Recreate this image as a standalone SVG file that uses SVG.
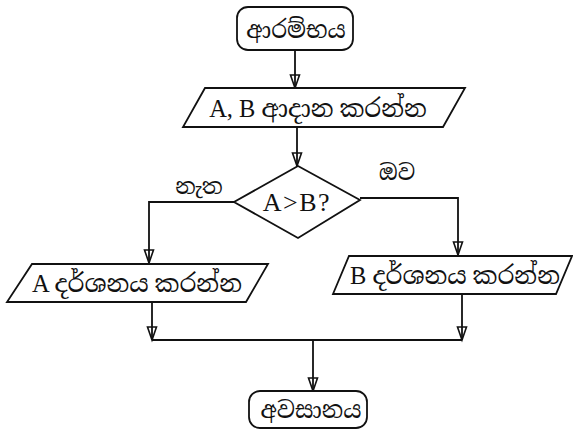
<svg xmlns="http://www.w3.org/2000/svg" width="573" height="430" viewBox="0 0 573 430">
<defs>
<style>
.shape{fill:#fff;stroke:#111;stroke-width:1.8}
.conn{fill:none;stroke:#111;stroke-width:1.8}
.t{font-family:"Liberation Serif","Noto Serif Sinhala","Noto Sans Sinhala","Iskoola Pota",serif;fill:#111;text-anchor:middle;dominant-baseline:central}
.s{font-size:23px}
.lb{font-size:22px}
.l{font-size:24.5px}
</style>
<marker id="ah" markerUnits="userSpaceOnUse" markerWidth="16" markerHeight="12" viewBox="-15 -6 16 12" refX="0" refY="0" orient="auto" overflow="visible">
<path d="M-13,-4.5 L0,0 L-13,4.5 Z" fill="none" stroke="#111" stroke-width="1.6" stroke-linejoin="miter"/>
</marker>
</defs>
<rect width="573" height="430" fill="#fff"/>
<g id="connectors">
<path class="conn" d="M295,50 V88" marker-end="url(#ah)"/>
<path class="conn" d="M297,127 V166" marker-end="url(#ah)"/>
<path class="conn" d="M234,202 H149 V263" marker-end="url(#ah)"/>
<path class="conn" d="M360,198 H458 V255" marker-end="url(#ah)"/>
<path class="conn" d="M152,302 V340" marker-end="url(#ah)"/>
<path class="conn" d="M462,294 V340" marker-end="url(#ah)"/>
<path class="conn" d="M152,340 H462"/>
<path class="conn" d="M313,340 V391" marker-end="url(#ah)"/>
<text class="t lb" x="199" y="186">නැත</text>
<text class="t lb" x="397" y="172">ඔව</text>
</g>
<g id="start">
<rect class="shape" x="237" y="7" width="116" height="43" rx="11"/>
<text class="t s" x="296" y="30">ආරම්භය</text>
</g>
<g id="input">
<polygon class="shape" points="205,88 465,88 443,127 183,127"/>
<text class="t l" x="318" y="108">A, B ආදාන කරන්න</text>
</g>
<g id="decision">
<polygon class="shape" points="298,166 360,200 298,238 234,202"/>
<text class="t" x="297" y="202" style="font-size:26px;letter-spacing:1.5px">A&gt;B?</text>
</g>
<g id="outA">
<polygon class="shape" points="32,264 268,264 246,302 7,302"/>
<text class="t l" x="137" y="283">A දර්ශනය කරන්න</text>
</g>
<g id="outB">
<polygon class="shape" points="349,256 572,256 556,294 333,294"/>
<text class="t l" x="455" y="275">B දර්ශනය කරන්න</text>
</g>
<g id="end">
<rect class="shape" x="249" y="391" width="118" height="37" rx="11"/>
<text class="t s" x="311" y="410">අවසානය</text>
</g>
</svg>
